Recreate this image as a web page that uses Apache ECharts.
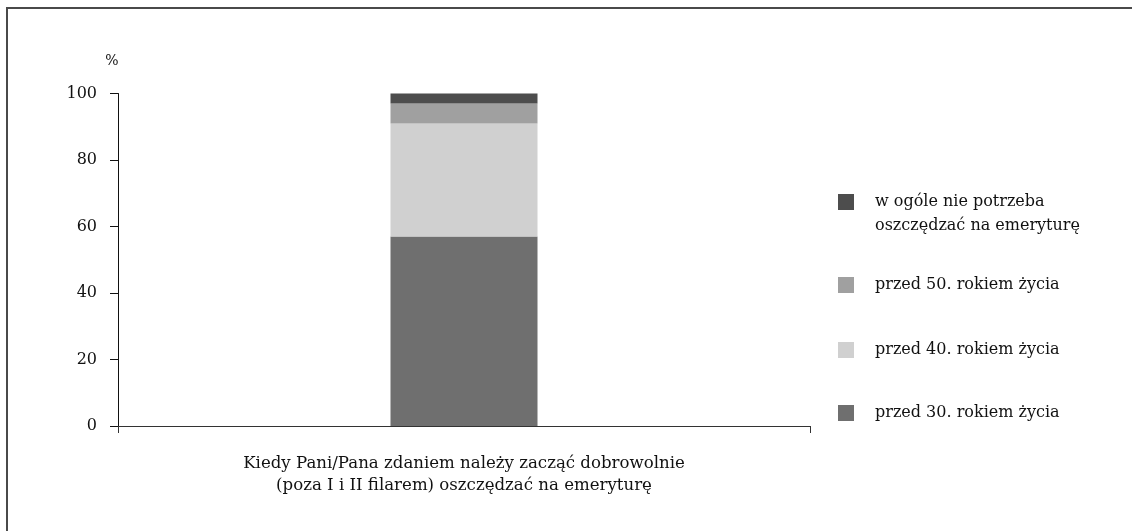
<!DOCTYPE html>
<html>
<head>
<meta charset="utf-8">
<script src="https://cdn.jsdelivr.net/npm/echarts@6/dist/echarts.min.js"></script>
<style>
  html, body { margin: 0; padding: 0; background: #ffffff; }
  #chart { width: 1132px; height: 531px; }
</style>
</head>
<body>
<div id="chart"></div>
<script>
// Question asked (single category on the x axis)
const categories = ['Kiedy Pani/Pana zdaniem należy zacząć dobrowolnie\n(poza I i II filarem) oszczędzać na emeryturę'];

// Stacked answers, bottom to top (percent of respondents)
const seriesNames = [
  'przed 30. rokiem życia',
  'przed 40. rokiem życia',
  'przed 50. rokiem życia',
  'w ogóle nie potrzeba\noszczędzać na emeryturę'
];
const before30 = [57];
const before40 = [34];
const before50 = [6];
const noNeed = [3];
const seriesValues = [before30, before40, before50, noNeed];

// Y axis scale
const yMin = 0;
const yMax = 100;
const yStep = 20;
const yUnit = '%';

const colors = ['#6f6f6f', '#d0d0d0', '#a0a0a0', '#4d4d4d'];
const FONT = 'DejaVu Serif';
const FONT_SIZE = 16;

const chart = echarts.init(document.getElementById('chart'), null, { renderer: 'canvas' });

const series = seriesNames.map((name, i) => ({
  name: name,
  type: 'bar',
  stack: 'total',
  barWidth: 147,
  data: seriesValues[i],
  itemStyle: { color: colors[i] },
  emphasis: { disabled: true }
}));

// One legend block per answer so each row sits at its own height
const legendTops = [166, 273, 338, 401];
const legendOrder = [3, 2, 1, 0];
const legends = legendOrder.map((si, k) => ({
  data: [seriesNames[si]],
  left: 838,
  top: legendTops[k],
  orient: 'vertical',
  padding: 0,
  itemWidth: 16,
  itemHeight: 16,
  icon: 'rect',
  selectedMode: false,
  formatter: si === 3 ? (n) => ' \n' + n : (n) => n,
  textStyle: {
    fontFamily: FONT,
    fontSize: FONT_SIZE,
    color: '#111111',
    lineHeight: 24,
    padding: [0, 0, 0, 16]
  }
}));

chart.setOption({
  animation: false,
  color: colors,
  grid: { left: 118, right: 322, top: 93.5, bottom: 105, containLabel: false },
  legend: legends,
  xAxis: {
    type: 'category',
    data: categories,
    boundaryGap: true,
    axisLine: { lineStyle: { color: '#333333', width: 1 } },
    axisTick: { show: true, length: 7, lineStyle: { color: '#333333' } },
    axisLabel: {
      fontFamily: FONT,
      fontSize: 16.6,
      color: '#111111',
      lineHeight: 22,
      margin: 27,
      align: 'center'
    }
  },
  yAxis: {
    type: 'value',
    min: yMin,
    max: yMax,
    interval: yStep,
    name: yUnit,
    nameLocation: 'end',
    nameGap: 25,
    nameTextStyle: {
      fontFamily: FONT,
      fontSize: 14,
      color: '#111111',
      align: 'center',
      padding: [0, 12, 0, 0]
    },
    axisLine: { show: true, lineStyle: { color: '#111111', width: 1 } },
    axisTick: { show: true, length: 8, lineStyle: { color: '#111111' } },
    axisLabel: {
      fontFamily: FONT,
      fontSize: FONT_SIZE,
      color: '#111111',
      margin: 21
    },
    splitLine: { show: false }
  },
  graphic: [{
    type: 'rect',
    silent: true,
    shape: { x: 7, y: 8, width: 1200, height: 600 },
    style: { fill: 'none', stroke: '#4a4a4a', lineWidth: 2 }
  }],
  series: series
});
</script>
</body>
</html>
